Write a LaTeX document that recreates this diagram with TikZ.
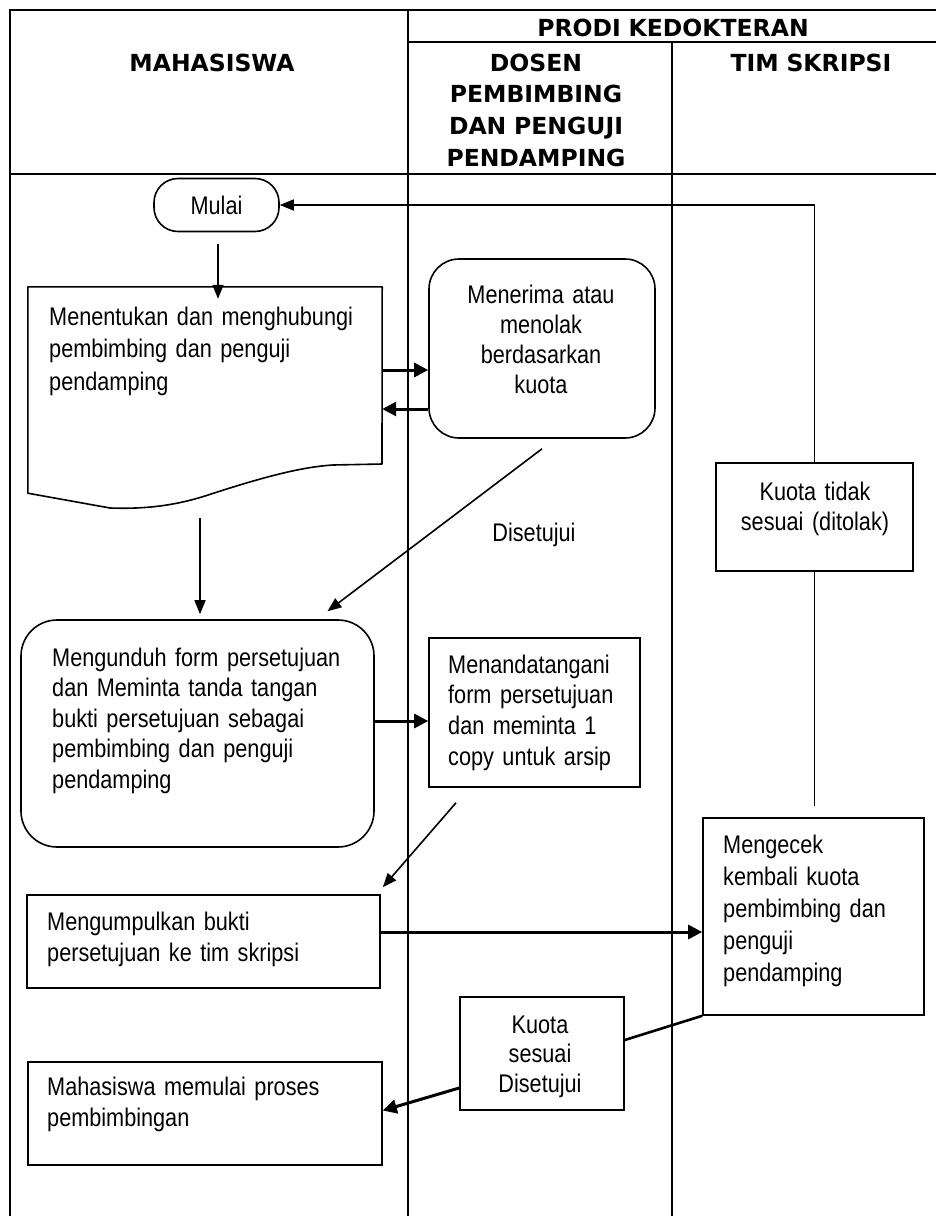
\documentclass[tikz,border=0pt]{standalone}
\usepackage{fontspec}
\setmainfont{Liberation Sans}[FakeStretch=0.85]
\newfontfamily\hdrfont{DejaVu Sans}
\usetikzlibrary{arrows.meta}
\newcommand{\setbodyfont}[1]{\fontsize{25.5}{#1}\selectfont\spaceskip=5.6pt plus 2pt minus 1pt\relax}
\begin{document}
\begin{tikzpicture}[x=1pt,y=-1pt,
  tbl/.style={line width=2.2pt},
  box/.style={draw, line width=1.6pt, inner sep=0pt},
  hdr/.style={font=\hdrfont\bfseries\fontsize{23.5}{31.7}\selectfont, inner sep=0pt, anchor=base, align=center, text width=300pt},
  txt/.style={font={\setbodyfont{#1}}, inner sep=0pt},
  txt/.default=31,
  lt/.style={txt=#1, anchor=base west, align=left, text width=340pt},
  ct/.style={txt=#1, anchor=base, align=center, text width=220pt},
  arr/.style={line width=1.6pt, -{Triangle[length=14pt,width=11pt]}},
  thickarr/.style={line width=3pt, -{Triangle[length=14pt,width=14pt]}},
  conn/.style={line width=1.6pt}
]
\useasboundingbox (0,0) rectangle (935,1216);
% table grid
\draw[tbl] (10,1222) -- (10,10) -- (940,10);
\draw[tbl] (408,10) -- (408,1222);
\draw[tbl] (408,42) -- (940,42);
\draw[tbl] (672,42) -- (672,1222);
\draw[tbl] (10,174) -- (940,174);
% headers
\node[hdr] (hprodi) at (673,36) {PRODI KEDOKTERAN};
\node[hdr] (hmhs) at (212,71) {MAHASISWA};
\node[hdr] (hdosen) at (536,71) {DOSEN\\PEMBIMBING\\DAN PENGUJI\\PENDAMPING};
\node[hdr] (htim) at (811,71) {TIM SKRIPSI};
% shapes
\node[box, rounded corners=24pt, minimum width=125pt, minimum height=53pt, txt] (mulai) at (216.5,205) {Mulai};
\node[inner sep=0pt, minimum width=354pt, minimum height=206pt] (doc) at (205,390) {};
\draw[line width=1.6pt, line join=round] (doc.north west) -- (doc.north east) -- (382,464) -- (333,465)
  .. controls (300,467) and (260,478) .. (205,496)
  .. controls (170,507) and (140,509) .. (110,508) -- (doc.south west) -- cycle;
\node[box, rounded corners=30pt, minimum width=226pt, minimum height=179pt] (menerima) at (542,348.5) {};
\node[box, minimum width=197pt, minimum height=108pt] (kuotatidak) at (814.5,517) {};
\node[box, rounded corners=36pt, minimum width=353pt, minimum height=227pt] (mengunduh) at (197.5,733.5) {};
\node[box, minimum width=211pt, minimum height=149pt] (menanda) at (534.5,712.5) {};
\node[box, minimum width=353pt, minimum height=93pt] (mengumpul) at (203.5,941.5) {};
\node[box, minimum width=221pt, minimum height=197pt] (mengecek) at (813.5,916.5) {};
\node[box, minimum width=164pt, minimum height=113pt] (kuotasesuai) at (542,1053.5) {};
\node[box, minimum width=354pt, minimum height=103pt] (mahasiswa) at (205,1113.5) {};
% texts
\node[lt=32.5] (tdoc) at (49,325) {Menentukan dan menghubungi\\pembimbing dan penguji\\pendamping};
\node[ct=30.3] (tmenerima) at (541,303) {Menerima atau\\menolak\\berdasarkan\\kuota};
\node[ct=30] (tkuotatidak) at (815,500) {Kuota tidak\\sesuai (ditolak)};
\node[txt, anchor=base] (tdisetujui) at (534,541) {Disetujui};
\node[lt=30.5] (tmengunduh) at (52,666) {Mengunduh form persetujuan\\dan Meminta tanda tangan\\bukti persetujuan sebagai\\pembimbing dan penguji\\pendamping};
\node[lt=30.7] (tmenanda) at (448,673) {Menandatangani\\form persetujuan\\dan meminta 1\\copy untuk arsip};
\node[lt=31] (tmengumpul) at (47,930) {Mengumpulkan bukti\\persetujuan ke tim skripsi};
\node[lt=32] (tmengecek) at (723,853) {Mengecek\\kembali kuota\\pembimbing dan\\penguji\\pendamping};
\node[ct=29.5] (tkuotasesuai) at (540,1033) {Kuota\\sesuai\\Disetujui};
\node[lt=31] (tmahasiswa) at (47,1095) {Mahasiswa memulai proses\\pembimbingan};
% connectors
\draw[arr] ([xshift=1.5pt,yshift=-12pt]mulai.south) -- ([xshift=1.5pt,yshift=-12pt]mulai.south |- doc.north);
\draw[arr] (kuotatidak.north) |- (mulai.east);
\draw[conn] (kuotatidak.south) -- ([yshift=11pt]kuotatidak.south |- mengecek.north);
\draw[thickarr] ([yshift=20pt]doc.east) -- ([yshift=20pt]doc.east -| menerima.west);
\draw[thickarr] ([yshift=-19pt]doc.east -| menerima.west) -- ([yshift=-19pt]doc.east);
\draw[arr] ([yshift=-10pt]menerima.south) -- ([xshift=130pt,yshift=8pt]mengunduh.north);
\draw[arr] ([xshift=-5pt,yshift=-25pt]doc.south) -- ([xshift=2.5pt,yshift=5pt]mengunduh.north);
\draw[thickarr] ([yshift=12.5pt]mengunduh.east) -- ([yshift=12.5pt]mengunduh.east -| menanda.west);
\draw[arr] ([xshift=-78.5pt,yshift=-15pt]menanda.south) -- ([xshift=2pt,yshift=7pt]mengumpul.north east);
\draw[thickarr] ([yshift=9.5pt]mengumpul.east) -- ([yshift=9.5pt]mengumpul.east -| mengecek.west);
\draw[line width=2.6pt] (mengecek.south west) -- ([yshift=13.5pt]kuotasesuai.east);
\draw[thickarr] ([yshift=-34.5pt]kuotasesuai.west) -- ([yshift=3pt]mahasiswa.east);
\end{tikzpicture}
\end{document}
